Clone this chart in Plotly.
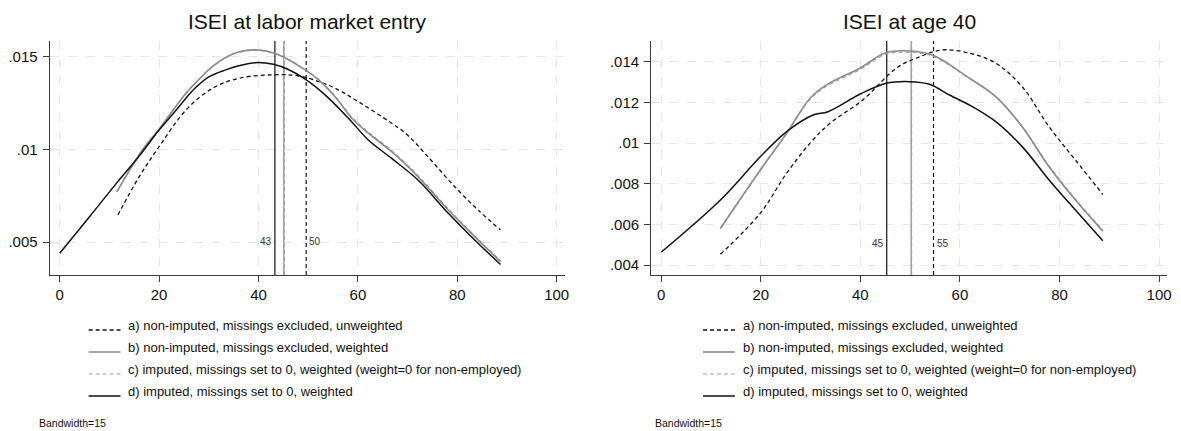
import plotly.graph_objects as go

# ---- Kernel density estimates of ISEI (bandwidth 15) ----
# Panel 1: ISEI at labor market entry
entry_a_x = [11.7, 16, 20, 25.4, 30.7, 36.1, 42.7, 48.1, 54.8, 60.1, 66.8, 69, 71, 73, 75, 79.5, 84.2, 88.7]
entry_a_y = [.00646, .00853, .01015, .01213, .0133, .01385, .01403, .01397, .01339, .01258, .01142, .01100, .01052, .00993, .00934, .00799, .00673, .00565]

entry_b_x = [11.5, 16.7, 20, 25.4, 28, 30.7, 34.7, 39.4, 44.1, 49.4, 52.1, 55.4, 58.8, 62.1, 66.8, 72.1, 78.2, 83.5, 88.7]
entry_b_y = [.00772, .0100, .0111, .01304, .01378, .01448, .01515, .01538, .01511, .0143, .01376, .01285, .01169, .01088, .00988, .00853, .00673, .00529, .00394]

entry_c_x = [11.5, 16.7, 20, 25.4, 28, 30.7, 34.7, 39.4, 44.1, 49.4, 52.1, 55.4, 58.8, 62.1, 66.8, 72.1, 78.2, 83.5, 88.7]
entry_c_y = [.00770, .0100, .0111, .01304, .01377, .01446, .01513, .01537, .01511, .01432, .01378, .01289, .01174, .01094, .00994, .00859, .00679, .00534, .00399]

entry_d_x = [0, 6, 11.4, 16, 20, 24, 27, 30, 33.4, 36, 39.4, 43, 46, 49.4, 53.4, 58.1, 62.1, 66.8, 72.1, 78.2, 83.5, 88.7]
entry_d_y = [.00439, .00637, .00817, .00965, .01105, .01231, .01325, .01392, .0143, .01452, .01469, .0146, .01432, .0138, .01295, .01169, .01051, .00952, .00835, .00655, .00511, .00379]

# Panel 2: ISEI at age 40
age40_a_x = [11.9, 19.9, 25.2, 29.9, 33.9, 40.5, 47.2, 51.2, 56.5, 61.9, 67.2, 72.5, 77.9, 83.2, 88.7]
age40_a_y = [.00453, .00655, .00852, .0100, .01098, .01213, .01369, .01418, .01459, .01443, .01394, .01278, .01081, .00917, .00748]

age40_b_x = [11.9, 19.9, 25.2, 29.9, 33.2, 39.9, 45.2, 49.9, 54.5, 61.9, 67.2, 72.5, 77.9, 83.2, 88.7]
age40_b_y = [.00581, .00868, .01049, .01221, .01287, .01369, .01446, .01454, .01434, .0132, .01229, .01081, .00884, .0072, .00567]

age40_c_x = [11.9, 19.9, 25.2, 29.9, 33.2, 39.9, 45.2, 49.9, 54.5, 61.9, 67.2, 72.5, 77.9, 83.2, 88.7]
age40_c_y = [.00579, .00866, .01047, .01216, .01280, .01362, .01439, .01447, .01429, .01318, .01228, .01083, .00888, .00725, .00572]

age40_d_x = [0, 11.9, 19.9, 25.2, 30.5, 33.5, 39.9, 45.2, 49.9, 53.9, 57.9, 62.5, 67.2, 72.5, 77.9, 83.2, 88.7]
age40_d_y = [.00463, .0072, .00933, .01057, .01139, .01155, .01241, .01295, .01303, .0129, .01237, .0118, .01106, .00983, .00819, .00671, .0052]

# Medians per estimate: a, b, c, d
entry_medians = [49.6, 45.1, 45.2, 43.3]
age40_medians = [54.7, 50.2, 50.3, 45.3]

panel_titles = ["ISEI at labor market entry", "ISEI at age 40"]
entry_yticks = [.005, .01, .015]
entry_yticklabels = [".005", ".01", ".015"]
age40_yticks = [.004, .006, .008, .010, .012, .014]
age40_yticklabels = [".004", ".006", ".008", ".01", ".012", ".014"]
xticks = [0, 20, 40, 60, 80, 100]

legend_labels = [
    "a) non-imputed, missings excluded, unweighted",
    "b) non-imputed, missings excluded, weighted",
    "c) imputed, missings set to 0, weighted (weight=0 for non-employed)",
    "d) imputed, missings set to 0, weighted",
]
note_text = "Bandwidth=15"

# ---- styling ----
W, H = 1181, 431
FONT = "Liberation Sans, Arial, sans-serif"
BLACK = "#111111"
GREY = "#8a8a8a"
GREY_C = "#a0a0a0"
AXIS = "#3c3c3c"
GRID = "#e6e6e6"

styles = [
    dict(color=BLACK, width=1.3, dash="4px,3px"),
    dict(color=GREY, width=1.6, dash="solid"),
    dict(color=GREY_C, width=1.2, dash="4px,3px"),
    dict(color=BLACK, width=1.5, dash="solid"),
]


def px_x(p):
    return p / W


def px_y(p):
    return 1 - p / H


panels = [
    dict(series=[(entry_a_x, entry_a_y), (entry_b_x, entry_b_y), (entry_c_x, entry_c_y), (entry_d_x, entry_d_y)],
         medians=entry_medians, yrange=[0.00322, 0.01586], yticks=entry_yticks, yticklabels=entry_yticklabels,
         xdom=[px_x(50), px_x(567)], label_y=0.00505,
         legend_line=(89, 121), legend_text=127, note_x=37),
    dict(series=[(age40_a_x, age40_a_y), (age40_b_x, age40_b_y), (age40_c_x, age40_c_y), (age40_d_x, age40_d_y)],
         medians=age40_medians, yrange=[0.00351, 0.01503], yticks=age40_yticks, yticklabels=age40_yticklabels,
         xdom=[px_x(654), px_x(1172)], label_y=0.00508,
         legend_line=(706, 738), legend_text=744, note_x=656),
]

ydom = [px_y(275), px_y(41)]
legend_rows = [325, 347, 369, 391]

fig = go.Figure()
shapes = []
annotations = []

for i, p in enumerate(panels):
    sfx = "" if i == 0 else str(i + 1)
    xa, ya = "x" + sfx, "y" + sfx

    # median reference lines
    for k in [1, 2, 0, 3]:
        m = p["medians"][k]
        st = styles[k]
        fig.add_trace(go.Scatter(
            x=[m, m], y=p["yrange"], xaxis=xa, yaxis=ya, mode="lines",
            line=dict(color=st["color"], width=1.2, dash=st["dash"]),
            showlegend=False, hoverinfo="skip"))

    # density curves
    for k in [0, 2, 1, 3]:
        xs, ys = p["series"][k]
        fig.add_trace(go.Scatter(
            x=xs, y=ys, xaxis=xa, yaxis=ya, mode="lines",
            line=dict(shape="spline", smoothing=1.0, **styles[k]),
            showlegend=False, hoverinfo="skip"))

    # median value labels (d: left of line, a: right of line)
    med_d, med_a = p["medians"][3], p["medians"][0]
    annotations.append(dict(x=med_d, y=p["label_y"], xref=xa, yref=ya, text=f"{med_d:.0f}",
                            showarrow=False, xanchor="right", xshift=-1,
                            font=dict(family=FONT, size=10, color="#333333")))
    annotations.append(dict(x=med_a, y=p["label_y"], xref=xa, yref=ya, text=f"{med_a:.0f}",
                            showarrow=False, xanchor="left", xshift=1,
                            font=dict(family=FONT, size=10, color="#333333")))

    # panel title
    annotations.append(dict(x=(p["xdom"][0] + p["xdom"][1]) / 2, y=px_y(21), xref="paper", yref="paper",
                            text=panel_titles[i], showarrow=False, xanchor="center", yanchor="middle",
                            font=dict(family=FONT, size=21, color="#111111")))

    axis_common = dict(showline=True, linecolor=AXIS, linewidth=1.3, ticks="outside", ticklen=6,
                       tickcolor=AXIS, tickwidth=1.3, showgrid=True, gridcolor=GRID, griddash="dash",
                       gridwidth=1, zeroline=False, tickfont=dict(family=FONT, size=15, color="#111111"))
    fig.update_layout(**{
        "xaxis" + sfx: dict(domain=p["xdom"], range=[-2, 101.6], anchor=ya, tickvals=xticks,
                            ticktext=[str(t) for t in xticks], **axis_common),
        "yaxis" + sfx: dict(domain=ydom, range=p["yrange"], anchor=xa, tickvals=p["yticks"],
                            ticktext=p["yticklabels"], ticklabelstandoff=2, **axis_common),
    })

    # legend swatches and labels
    x0, x1 = p["legend_line"]
    for k, row in enumerate(legend_rows):
        st = styles[k]
        shapes.append(dict(type="line", xref="paper", yref="paper",
                           x0=px_x(x0), x1=px_x(x1), y0=px_y(row + 5), y1=px_y(row + 5),
                           line=dict(color=st["color"], width=st["width"], dash=st["dash"])))
        annotations.append(dict(x=px_x(p["legend_text"]), y=px_y(row), xref="paper", yref="paper",
                                text=legend_labels[k], showarrow=False, xanchor="left", yanchor="middle",
                                font=dict(family=FONT, size=13, color="#111111")))
    annotations.append(dict(x=px_x(p["note_x"]), y=px_y(423), xref="paper", yref="paper",
                            text=note_text, showarrow=False, xanchor="left", yanchor="middle",
                            font=dict(family=FONT, size=10.5, color="#111111")))

fig.update_layout(width=W, height=H, margin=dict(l=0, r=0, t=0, b=0),
                  paper_bgcolor="white", plot_bgcolor="white",
                  shapes=shapes, annotations=annotations, showlegend=False)

fig.write_html("out.html")
